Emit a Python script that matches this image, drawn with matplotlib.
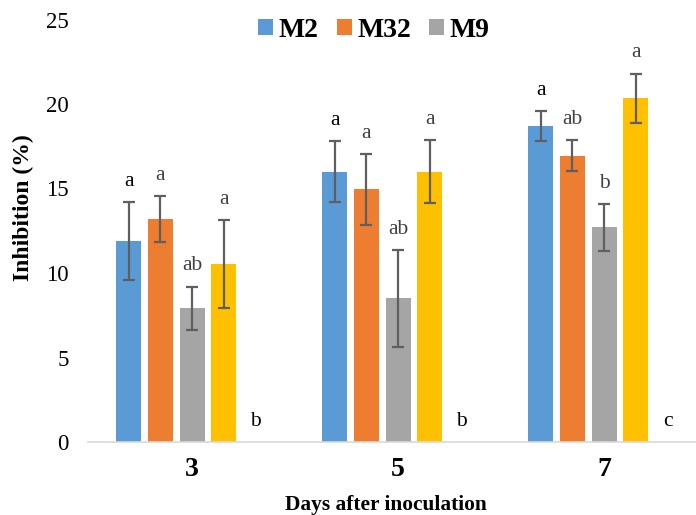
import matplotlib
matplotlib.use("Agg")
import matplotlib.pyplot as plt
import numpy as np

days = ["3", "5", "7"]
series = ["M2", "M32", "M9", "S4", "S5"]
values = {
    "M2":  [11.9, 16.0, 18.7],
    "M32": [13.2, 14.95, 16.95],
    "M9":  [7.9, 8.5, 12.7],
    "S4":  [10.55, 16.0, 20.35],
    "S5":  [0.0, 0.0, 0.0],
}
errors = {
    "M2":  [2.3, 1.8, 0.9],
    "M32": [1.35, 2.1, 0.9],
    "M9":  [1.3, 2.85, 1.4],
    "S4":  [2.6, 1.85, 1.45],
    "S5":  [0.0, 0.0, 0.0],
}
letters = {
    "M2":  ["a", "a", "a"],
    "M32": ["a", "a", "ab"],
    "M9":  ["ab", "ab", "b"],
    "S4":  ["a", "a", "a"],
    "S5":  ["b", "b", "c"],
}
colors = {"M2": "#5B9BD5", "M32": "#ED7D31", "M9": "#A5A5A5", "S4": "#FFC000", "S5": "#4472C4"}
letter_colors = {"M2": "black", "M32": "#404040", "M9": "#404040", "S4": "#404040", "S5": "black"}
legend_series = ["M2", "M32", "M9"]

plt.rcParams['font.family'] = ['Liberation Serif', 'DejaVu Serif']

W, H = 696, 515
fig = plt.figure(figsize=(W / 100, H / 100), dpi=100)
ax = fig.add_axes([88 / W, 73 / H, 608 / W, 422.5 / H])

x = np.arange(len(days))
pitch = 0.154
width = 0.121
handles = []
for i, s in enumerate(series):
    xs = x + (i - 2) * pitch
    b = ax.bar(xs, values[s], width, color=colors[s], label=s, zorder=2)
    if s in legend_series:
        handles.append(b)
    if s != "S5":
        ax.errorbar(xs, values[s], yerr=errors[s], fmt='none', ecolor='#5f5f5f',
                    elinewidth=1.6, capsize=4, capthick=1.6, zorder=3)
    for xi, v, e, t in zip(xs, values[s], errors[s], letters[s]):
        ax.annotate(t, (xi, v + e), xytext=(0, 8), textcoords='offset points',
                    ha='center', va='bottom', fontsize=15.5, color=letter_colors[s])

ax.set_xlim(-0.505, 2.446)
ax.set_ylim(0, 25)
ax.set_yticks([0, 5, 10, 15, 20, 25])
ax.set_xticks(x)
ax.set_xticklabels(days, fontsize=20, fontweight='bold')
ax.tick_params(axis='y', labelsize=16.5, length=0, pad=14)
ax.tick_params(axis='x', length=0, pad=11)
for sp in ['top', 'right', 'left']:
    ax.spines[sp].set_visible(False)
ax.spines['bottom'].set_color('#D9D9D9')
ax.spines['bottom'].set_linewidth(1.2)

fig.text(23 / W, 1 - 207.5 / H, "Inhibition (%)", rotation=90, ha='center', va='center',
         fontsize=17, fontweight='bold')
fig.text(386 / W, 1 - 510 / H, "Days after inoculation", ha='center', va='baseline',
         fontsize=15.4, fontweight='bold')

leg = fig.legend(handles, legend_series, loc='center', bbox_to_anchor=(374 / W, 1 - 30.5 / H),
                 ncol=3, frameon=False, prop={'family': 'Liberation Serif', 'weight': 'bold', 'size': 20},
                 handlelength=0.54, handleheight=0.54, handletextpad=0.2, columnspacing=0.65,
                 borderpad=0, borderaxespad=0)

fig.savefig("out.png", dpi=100)
